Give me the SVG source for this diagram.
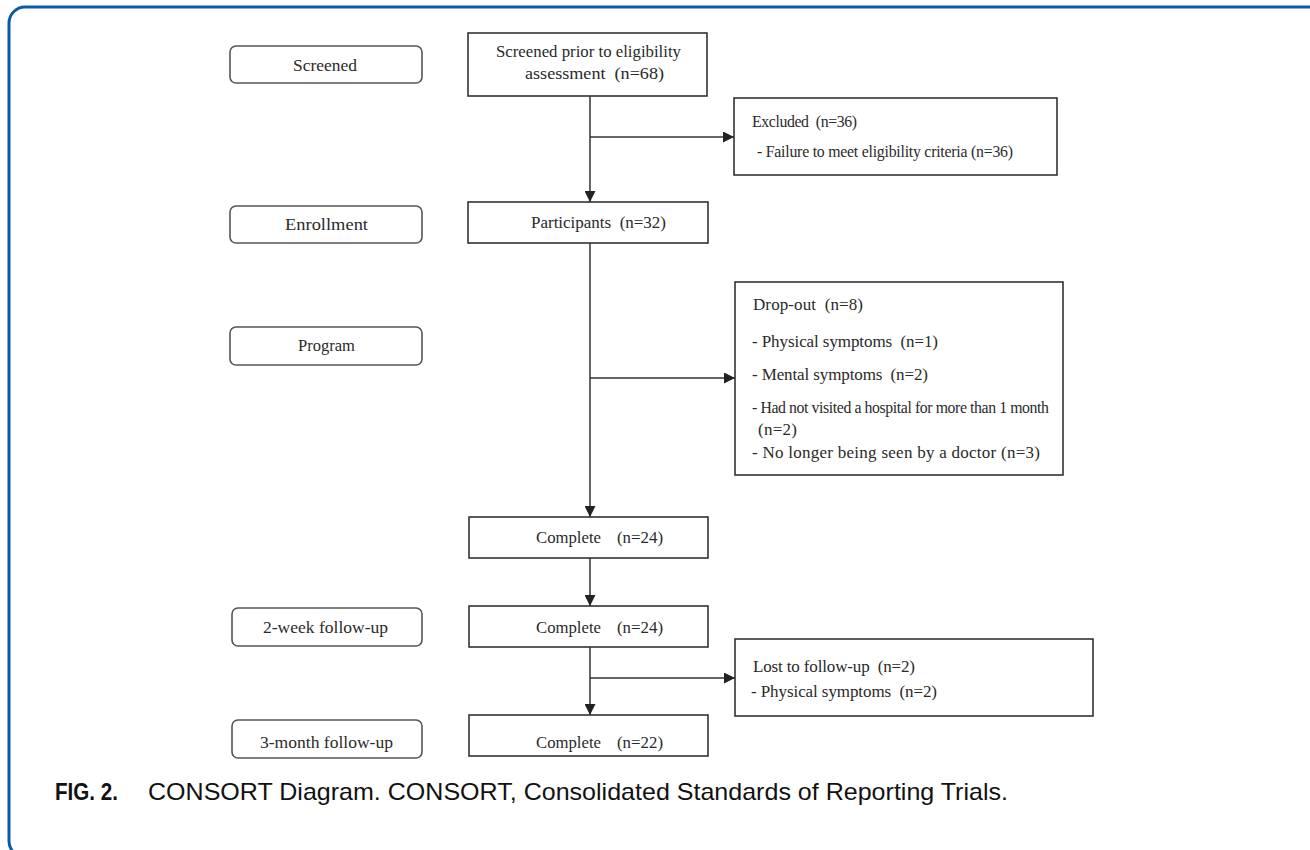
<svg xmlns="http://www.w3.org/2000/svg" width="1310" height="850" viewBox="0 0 1310 850">
<defs>
<marker id="ah" markerWidth="11" markerHeight="11" refX="11" refY="5.5" orient="auto" markerUnits="userSpaceOnUse">
<path d="M0,0 L11,5.5 L0,11 Z" fill="#222"/>
</marker>
<style>
.frame{fill:none;stroke:#0a5aa8;stroke-width:3}
.lab{fill:#fff;stroke:#555;stroke-width:1.6}
.box{fill:#fff;stroke:#333;stroke-width:1.6}
.t{font-family:"Liberation Serif","Times New Roman",serif;font-size:17px;fill:#2a2a2a;white-space:pre}
.s{font-size:15.8px}
.ln{stroke:#333;stroke-width:1.5;fill:none}
.cap{font-family:"Liberation Sans",Arial,sans-serif;font-size:24px;fill:#111}
</style>
</defs>
<rect class="frame" x="9" y="7" width="1320" height="850" rx="16"/>

<g id="lab-screened"><rect class="lab" x="230" y="46" width="192" height="37" rx="6"/><text class="t" x="293" y="71" textLength="64" lengthAdjust="spacingAndGlyphs">Screened</text></g>
<g id="lab-enrollment"><rect class="lab" x="230" y="206" width="192" height="37" rx="6"/><text class="t" x="285" y="230" textLength="83" lengthAdjust="spacingAndGlyphs">Enrollment</text></g>
<g id="lab-program"><rect class="lab" x="230" y="327" width="192" height="38" rx="6"/><text class="t" x="298" y="351" textLength="57" lengthAdjust="spacingAndGlyphs">Program</text></g>
<g id="lab-2week"><rect class="lab" x="232" y="608" width="190" height="38" rx="6"/><text class="t" x="263" y="633" textLength="125" lengthAdjust="spacingAndGlyphs">2-week follow-up</text></g>
<g id="lab-3month"><rect class="lab" x="232" y="720" width="190" height="38" rx="6"/><text class="t" x="260" y="748" textLength="133" lengthAdjust="spacingAndGlyphs">3-month follow-up</text></g>

<g id="n-screened"><rect class="box" x="468" y="33" width="239" height="63"/>
<text class="t" x="496" y="57" textLength="185" lengthAdjust="spacingAndGlyphs">Screened prior to eligibility</text>
<text class="t" x="525" y="79" textLength="139" lengthAdjust="spacingAndGlyphs">assessment  (n=68)</text></g>

<g id="n-excluded"><rect class="box" x="734" y="98" width="323" height="77"/>
<text class="t s" x="752" y="127" textLength="105" lengthAdjust="spacing">Excluded  (n=36)</text>
<text class="t s" x="757" y="157" textLength="256" lengthAdjust="spacing">- Failure to meet eligibility criteria (n=36)</text></g>

<g id="n-participants"><rect class="box" x="468" y="202" width="240" height="41"/>
<text class="t" x="531" y="228" textLength="135" lengthAdjust="spacing">Participants  (n=32)</text></g>

<g id="n-dropout"><rect class="box" x="735" y="282" width="328" height="193"/>
<text class="t" x="753" y="310" textLength="110" lengthAdjust="spacing">Drop-out  (n=8)</text>
<text class="t" x="752" y="347" textLength="186" lengthAdjust="spacing">- Physical symptoms  (n=1)</text>
<text class="t" x="752" y="380" textLength="176" lengthAdjust="spacing">- Mental symptoms  (n=2)</text>
<text class="t s" x="752" y="413" textLength="297" lengthAdjust="spacing">- Had not visited a hospital for more than 1 month</text>
<text class="t" x="758" y="435" textLength="39" lengthAdjust="spacing">(n=2)</text>
<text class="t" x="752" y="458" textLength="288" lengthAdjust="spacing">- No longer being seen by a doctor (n=3)</text></g>

<g id="n-complete1"><rect class="box" x="469" y="517" width="239" height="41"/>
<text class="t" x="536" y="543" textLength="65" lengthAdjust="spacingAndGlyphs">Complete</text><text class="t" x="617" y="543" textLength="46" lengthAdjust="spacingAndGlyphs">(n=24)</text></g>

<g id="n-complete2"><rect class="box" x="469" y="606" width="239" height="41"/>
<text class="t" x="536" y="633" textLength="65" lengthAdjust="spacingAndGlyphs">Complete</text><text class="t" x="617" y="633" textLength="46" lengthAdjust="spacingAndGlyphs">(n=24)</text></g>

<g id="n-lost"><rect class="box" x="735" y="639" width="358" height="77"/>
<text class="t" x="753" y="672" textLength="162" lengthAdjust="spacing">Lost to follow-up  (n=2)</text>
<text class="t" x="751" y="697" textLength="186" lengthAdjust="spacing">- Physical symptoms  (n=2)</text></g>

<g id="n-complete3"><rect class="box" x="469" y="715" width="239" height="41"/>
<text class="t" x="536" y="748" textLength="65" lengthAdjust="spacingAndGlyphs">Complete</text><text class="t" x="617" y="748" textLength="46" lengthAdjust="spacingAndGlyphs">(n=22)</text></g>

<g id="connectors">
<line class="ln" x1="590" y1="96" x2="590" y2="202" marker-end="url(#ah)"/>
<line class="ln" x1="590" y1="137" x2="734" y2="137" marker-end="url(#ah)"/>
<line class="ln" x1="590" y1="243" x2="590" y2="517" marker-end="url(#ah)"/>
<line class="ln" x1="590" y1="378" x2="735" y2="378" marker-end="url(#ah)"/>
<line class="ln" x1="590" y1="558" x2="590" y2="606" marker-end="url(#ah)"/>
<line class="ln" x1="590" y1="647" x2="590" y2="715" marker-end="url(#ah)"/>
<line class="ln" x1="590" y1="678" x2="735" y2="678" marker-end="url(#ah)"/>
</g>

<g id="caption">
<text class="cap" x="55" y="800" font-weight="bold" textLength="63" lengthAdjust="spacingAndGlyphs">FIG. 2.</text>
<text class="cap" x="148" y="800" textLength="860" lengthAdjust="spacingAndGlyphs">CONSORT Diagram. CONSORT, Consolidated Standards of Reporting Trials.</text>
</g>
</svg>
